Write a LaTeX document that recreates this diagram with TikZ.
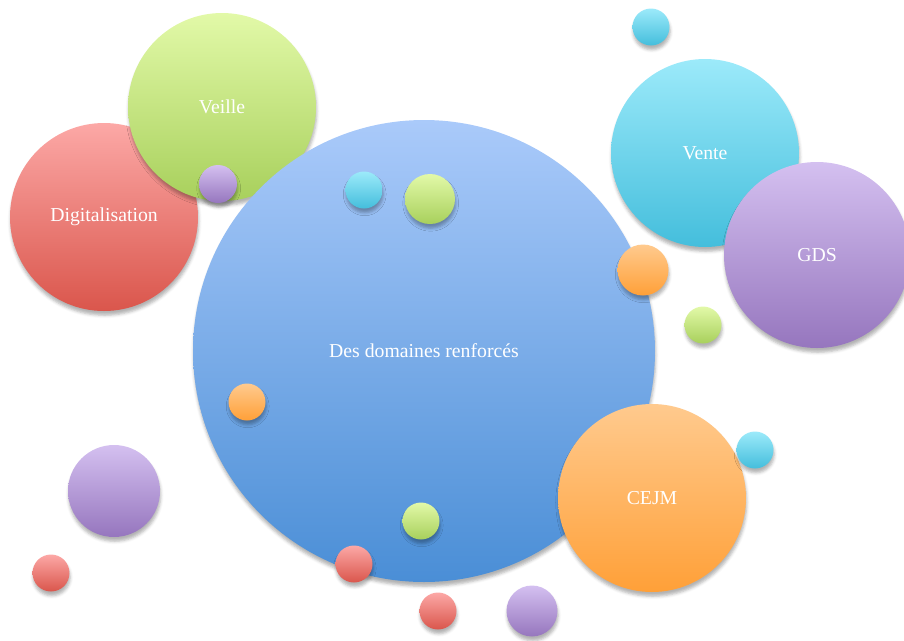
\documentclass[tikz,border=0pt]{standalone}
\usepackage{fontspec}
\setmainfont{Liberation Serif}
\usetikzlibrary{shadows.blur}
\definecolor{bluetop}{RGB}{170,202,250}
\definecolor{bluebot}{RGB}{74,142,214}
\definecolor{redtop}{RGB}{252,168,166}
\definecolor{redbot}{RGB}{218,86,76}
\definecolor{greentop}{RGB}{226,249,168}
\definecolor{greenbot}{RGB}{168,208,92}
\definecolor{cyantop}{RGB}{156,234,250}
\definecolor{cyanbot}{RGB}{68,190,220}
\definecolor{purpletop}{RGB}{212,192,240}
\definecolor{purplebot}{RGB}{150,118,190}
\definecolor{orangetop}{RGB}{255,202,142}
\definecolor{orangebot}{RGB}{255,160,56}
\tikzset{
  ball/.style={circle, inner sep=0pt, draw=none, text=white,
    font=\fontsize{14.8pt}{17pt}\selectfont,
    blur shadow={shadow xshift=0.5pt, shadow yshift=-3.2pt, shadow blur radius=2.2pt, shadow blur extra rounding=0pt, shadow opacity=30}},
  bblue/.style={ball, top color=bluetop, bottom color=bluebot},
  bred/.style={ball, top color=redtop, bottom color=redbot},
  bgreen/.style={ball, top color=greentop, bottom color=greenbot},
  bcyan/.style={ball, top color=cyantop, bottom color=cyanbot},
  bpurple/.style={ball, top color=purpletop, bottom color=purplebot},
  borange/.style={ball, top color=orangetop, bottom color=orangebot},
  d/.style={minimum size={#1*0.75pt}}
}
\begin{document}
\begin{tikzpicture}[x=0.75pt,y=-0.75pt]
\useasboundingbox (0,0) rectangle (904,640);
% large circles
\node[bred, d=188] (dig) at (104,217) {Digitalisation};
\node[bgreen, d=188] (veille) at (222,107) {Veille};
\node[bpurple, d=38] (p1) at (218,184) {};
\node[bblue, d=462] (main) at (424,351) {Des domaines renforcés};
\node[bcyan, d=188] (vente) at (705,153) {Vente};
\node[bpurple, d=186] (gds) at (817,255) {GDS};
\node[borange, d=188] (cejm) at (652,498) {CEJM};
% small circles
\node[bcyan, d=37] (c1) at (651,27) {};
\node[bcyan, d=37] (c2) at (364,190) {};
\node[bgreen, d=50] (g1) at (430,199) {};
\node[borange, d=51] (o1) at (643,270) {};
\node[bgreen, d=37] (g2) at (703,325) {};
\node[borange, d=37] (o2) at (247,402) {};
\node[bcyan, d=37] (c3) at (755,450) {};
\node[bpurple, d=92] (p2) at (114,491) {};
\node[bred, d=37] (r1) at (51,573) {};
\node[bgreen, d=37] (g3) at (421,521) {};
\node[bred, d=37] (r2) at (354,564) {};
\node[bred, d=37] (r3) at (438,611) {};
\node[bpurple, d=51] (p3) at (532,611) {};
\end{tikzpicture}
\end{document}
